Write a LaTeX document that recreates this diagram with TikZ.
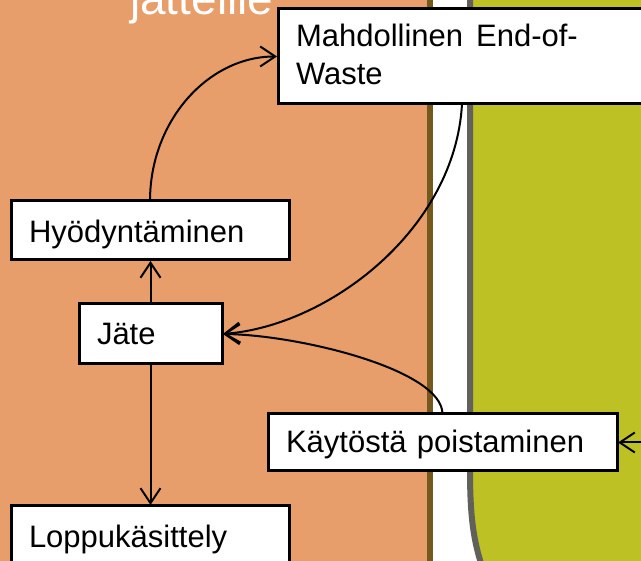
\documentclass[tikz,border=0pt]{standalone}
\usepackage{fontspec}
\setmainfont{Liberation Sans}
\usetikzlibrary{arrows.meta}
\definecolor{bgorange}{RGB}{232,158,106}
\definecolor{bggreen}{RGB}{189,193,36}
\definecolor{bgbrown}{RGB}{117,88,28}
\definecolor{bggrey}{RGB}{98,96,91}
\begin{document}
\begin{tikzpicture}[x=1pt,y=-1pt,
  box/.style={draw=black, line width=3pt, fill=white, anchor=north west,
    outer sep=0pt, inner xsep=18pt, inner ysep=0pt, text depth=0pt,
    align=left, font=\fontsize{31}{38}\selectfont},
  conn/.style={draw=black, line width=2pt, shorten >=1pt,
    -{Straight Barb[length=15pt,width=20pt]}}]
\useasboundingbox (0,0) rectangle (641,561);
\clip (0,0) rectangle (641,561);
% background
\fill[white] (0,0) rectangle (641,561);
\fill[bgorange] (0,0) rectangle (430,561);
\draw[bgbrown, line width=6pt] (430,-5) -- (430,570);
\fill[bggreen] (470,-10) -- (470,470) .. controls (470,520) and (474,545) .. (485,575)
  -- (660,575) -- (660,-10) -- cycle;
\draw[bggrey, line width=6pt] (470,-10) -- (470,470) .. controls (470,520) and (474,545) .. (485,575);
% title (cut off at the top, as in the reference)
\node[anchor=base west, text=white, inner sep=0pt,
  font=\fontsize{46}{50}\selectfont] (title) at (130,15) {jätteille};
% boxes
\node[box, text width=332pt, minimum height=95pt, text height=19pt, text depth=38pt] (mahd) at (278,9)
  {Mahdollinen\hspace{13pt}End-of-\\Waste};
\node[box, text width=242pt, minimum height=59pt, text height=25pt] (hyod) at (11,201) {Hyödyntäminen};
\node[box, text width=107pt, minimum height=60pt, text height=22pt] (jate) at (79,304) {Jäte};
\node[box, text width=313pt, minimum height=57pt, text height=21pt] (kayt) at (268,414) {Käytöstä poistaminen};
\node[box, text width=242pt, minimum height=59pt, text height=25pt] (lopp) at (11,506) {Loppukäsittely};
% connectors
\draw[conn] (hyod.north) .. controls +(0,-80) and +(-70,0) .. (mahd.west);
\draw[conn] (jate.north) -- (jate.north |- hyod.south);
\draw[conn] (jate.south) -- (jate.south |- lopp.north);
\draw[conn] (mahd.south) .. controls +(-7,126) and +(106,-8) .. (jate.east);
\draw[conn] (kayt.north) .. controls +(0,-44) and +(78,1) .. (jate.east);
\coordinate (rin) at (660,442.5);
\draw[conn] (rin) -- (kayt.east);
\end{tikzpicture}
\end{document}
